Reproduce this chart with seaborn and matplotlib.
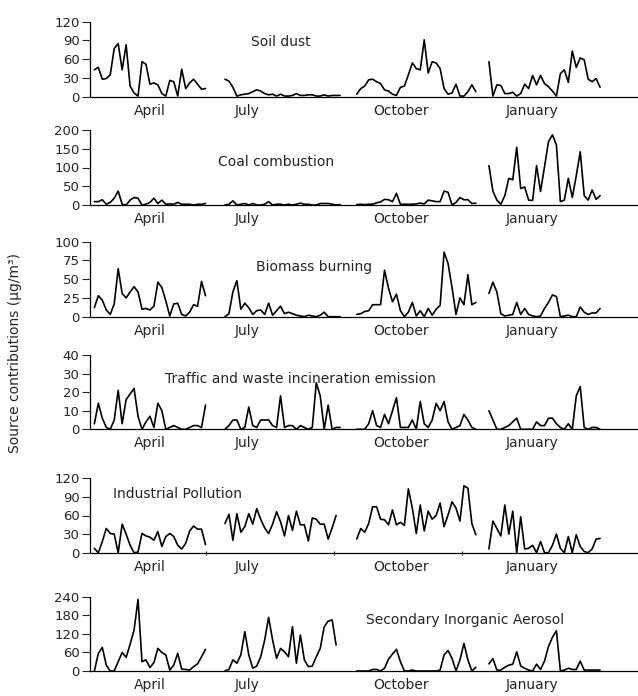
import numpy as np
import pandas as pd
import matplotlib
matplotlib.use("Agg")
import matplotlib.pyplot as plt
import seaborn as sns

# ---------------- data ----------------
months = ["April", "July", "October", "January"]
sources = ["Soil dust", "Coal combustion", "Biomass burning",
           "Traffic and waste incineration emission",
           "Industrial Pollution", "Secondary Inorganic Aerosol"]

soil_apr = [43, 47, 28, 29, 35, 77, 85, 43, 83, 17, 6, 1, 56, 52, 20, 22, 19, 5, 1, 26, 24, 1, 44, 13, 22, 28, 20, 12, 13]
soil_jul = [28, 25, 15, 1, 3, 4, 5, 8, 11, 9, 5, 3, 4, 1, 4, 1, 1, 2, 5, 2, 2, 3, 3, 1, 1, 3, 1, 2, 2, 2]
soil_oct = [4, 13, 17, 27, 28, 24, 21, 11, 9, 4, 2, 15, 17, 35, 54, 45, 43, 91, 38, 56, 54, 45, 13, 4, 6, 20, 1, 1, 8, 19, 8]
soil_jan = [56, 1, 19, 18, 5, 5, 7, 1, 5, 20, 13, 34, 19, 34, 21, 16, 9, 1, 37, 43, 23, 73, 47, 62, 59, 28, 24, 29, 15]

coal_apr = [9, 9, 14, 2, 7, 18, 37, 2, 0, 13, 20, 18, 0, 2, 7, 18, 4, 13, 2, 3, 2, 7, 2, 2, 2, 0, 2, 2, 4]
coal_jul = [0, 2, 11, 0, 2, 4, 0, 4, 0, 0, 2, 9, 0, 2, 2, 0, 2, 0, 2, 5, 2, 2, 0, 0, 4, 4, 4, 2, 0, 1]
coal_oct = [1, 2, 1, 2, 2, 6, 8, 15, 14, 9, 31, 2, 2, 2, 2, 3, 5, 3, 13, 11, 9, 9, 37, 34, 0, 7, 20, 14, 14, 4, 5]
coal_jan = [105, 37, 13, 2, 25, 71, 67, 154, 44, 48, 13, 12, 105, 36, 102, 169, 187, 160, 9, 13, 71, 20, 78, 142, 25, 13, 40, 15, 25]

bio_apr = [12, 28, 22, 9, 3, 17, 64, 31, 25, 33, 40, 33, 10, 11, 9, 14, 46, 39, 21, 1, 17, 18, 3, 1, 6, 16, 14, 47, 28]
bio_jul = [0, 4, 33, 48, 10, 18, 12, 3, 8, 9, 3, 18, 2, 8, 14, 4, 6, 4, 2, 1, 0, 2, 1, 0, 2, 6, 0, 0, 0, 0]
bio_oct = [3, 4, 7, 8, 16, 16, 16, 62, 38, 20, 30, 8, 0, 6, 19, 1, 8, 0, 11, 2, 10, 15, 86, 71, 39, 3, 25, 16, 56, 16, 19]
bio_jan = [31, 46, 33, 4, 1, 2, 3, 19, 3, 11, 3, 1, 0, 1, 11, 19, 29, 27, 0, 1, 2, 0, 0, 13, 6, 3, 5, 5, 11]

traf_apr = [3, 14, 6, 1, 0, 5, 21, 3, 16, 19, 22, 7, 0, 4, 7, 1, 14, 10, 0, 1, 2, 1, 0, 0, 1, 2, 2, 1, 13]
traf_jul = [0, 2, 5, 5, 0, 1, 12, 2, 1, 5, 5, 5, 2, 1, 18, 1, 2, 2, 0, 2, 1, 0, 1, 25, 18, 0, 13, 0, 1, 1]
traf_oct = [0, 0, 0, 3, 10, 2, 1, 8, 3, 10, 17, 1, 1, 1, 5, 0, 15, 3, 1, 5, 14, 10, 15, 4, 0, 1, 2, 8, 5, 1, 0]
traf_jan = [10, 5, 0, 0, 1, 2, 4, 6, 0, 0, 0, 0, 4, 2, 2, 6, 6, 3, 1, 0, 3, 0, 18, 23, 1, 0, 1, 1, 0]

ind_apr = [7, 0, 18, 39, 31, 30, 0, 46, 30, 12, 0, 1, 31, 27, 25, 20, 34, 10, 26, 31, 26, 12, 6, 15, 35, 43, 38, 38, 13]
ind_jul = [47, 62, 20, 63, 33, 42, 63, 46, 71, 54, 40, 31, 46, 66, 50, 27, 60, 36, 67, 45, 45, 19, 56, 54, 46, 46, 22, 40, 60]
ind_oct = [22, 39, 33, 47, 74, 74, 54, 53, 45, 69, 45, 49, 44, 103, 72, 31, 77, 35, 67, 54, 60, 80, 42, 61, 82, 72, 51, 108, 104, 47, 29]
ind_jan = [6, 51, 39, 27, 77, 30, 67, 0, 58, 6, 7, 12, 0, 18, 0, 0, 12, 30, 7, 0, 26, 0, 29, 10, 2, 0, 6, 22, 23]

sia_apr = [0, 57, 76, 19, 0, 0, 30, 60, 44, 86, 132, 231, 30, 36, 11, 27, 73, 60, 52, 3, 19, 57, 6, 5, 3, 14, 23, 46, 70]
sia_jul = [0, 5, 36, 25, 52, 127, 52, 9, 16, 46, 100, 173, 100, 41, 73, 62, 46, 143, 25, 116, 36, 14, 16, 46, 73, 143, 161, 165, 84]
sia_oct = [0, 0, 0, 0, 5, 5, 0, 9, 38, 55, 70, 30, 0, 0, 3, 0, 0, 0, 0, 0, 0, 3, 52, 66, 41, 0, 36, 89, 36, 0, 12]
sia_jan = [23, 40, 3, 3, 12, 19, 22, 62, 16, 9, 3, 0, 22, 5, 32, 79, 109, 130, 0, 3, 9, 5, 5, 32, 3, 3, 3, 3, 3]

series = {
    "Soil dust": [soil_apr, soil_jul, soil_oct, soil_jan],
    "Coal combustion": [coal_apr, coal_jul, coal_oct, coal_jan],
    "Biomass burning": [bio_apr, bio_jul, bio_oct, bio_jan],
    "Traffic and waste incineration emission": [traf_apr, traf_jul, traf_oct, traf_jan],
    "Industrial Pollution": [ind_apr, ind_jul, ind_oct, ind_jan],
    "Secondary Inorganic Aerosol": [sia_apr, sia_jul, sia_oct, sia_jan],
}

y_ticks = {
    "Soil dust": [0, 30, 60, 90, 120],
    "Coal combustion": [0, 50, 100, 150, 200],
    "Biomass burning": [0, 25, 50, 75, 100],
    "Traffic and waste incineration emission": [0, 10, 20, 30, 40],
    "Industrial Pollution": [0, 30, 60, 90, 120],
    "Secondary Inorganic Aerosol": [0, 60, 120, 180, 240],
}

# ---------------- layout ----------------
month_start = [1.1, 34.0, 67.2, 100.5]     # start position of each campaign on the time axis
month_label_pos = [15.1, 39.5, 78.3, 111.3]
x_max = 137.8
ind_minor = [29.2, 61.5, 93.7]

W, H = 638, 696
panel_px = [(21.7, 96.7), (130.0, 205.0), (241.7, 316.7),
            (355.0, 429.3), (478.3, 552.7), (596.7, 671.0)]
label_px = [(281, 42.3), (276.5, 161.7), (314, 266.7),
            (300, 379.3), (177.5, 494.3), (465.5, 620.0)]
ax_left_px, ax_right_px = 90, 637

rows = []
for src in sources:
    for m, start, vals in zip(months, month_start, series[src]):
        for i, v in enumerate(vals):
            rows.append((src, m, start + i, v))
df = pd.DataFrame(rows, columns=["source", "month", "x", "value"])

sns.set_theme(style="ticks")
plt.rcParams["font.family"] = ["DejaVu Sans"]

fig = plt.figure(figsize=(W / 100, H / 100), dpi=100)

for k, src in enumerate(sources):
    top, bot = panel_px[k]
    ax = fig.add_axes([ax_left_px / W, 1 - bot / H,
                       (ax_right_px - ax_left_px) / W, (bot - top) / H])
    sub = df[df["source"] == src]
    sns.lineplot(data=sub, x="x", y="value", units="month", estimator=None,
                 color="black", linewidth=1.2, ax=ax, legend=False)
    yt = y_ticks[src]
    ax.set_ylim(yt[0], yt[-1])
    ax.set_xlim(0, x_max)
    ax.set_yticks(yt)
    ax.set_yticklabels([str(t) for t in yt], fontsize=9.5)
    ax.set_xticks(month_label_pos)
    ax.set_xticklabels(months, fontsize=10)
    ax.tick_params(axis="x", length=0, pad=5)
    ax.tick_params(axis="y", length=6, width=0.8, pad=1.5, direction="out")
    if src == "Industrial Pollution":
        ax.set_xticks(ind_minor, minor=True)
        ax.tick_params(axis="x", which="minor", length=3, width=0.8, direction="inout")
    ax.set_xlabel("")
    ax.set_ylabel("")
    for s in ["top", "right"]:
        ax.spines[s].set_visible(False)
    for s in ["left", "bottom"]:
        ax.spines[s].set_linewidth(0.9)
        ax.spines[s].set_color("black")
    ax.patch.set_alpha(0)
    lx, ly = label_px[k]
    ax.text((lx - ax_left_px) / (ax_right_px - ax_left_px), (bot - ly) / (bot - top),
            src, transform=ax.transAxes, ha="center", va="center", fontsize=10)

fig.text(15 / W, 1 - 353 / H, "Source contributions (µg/m³)", rotation=90,
         ha="center", va="center", fontsize=10)

fig.savefig("out.png", dpi=100)
